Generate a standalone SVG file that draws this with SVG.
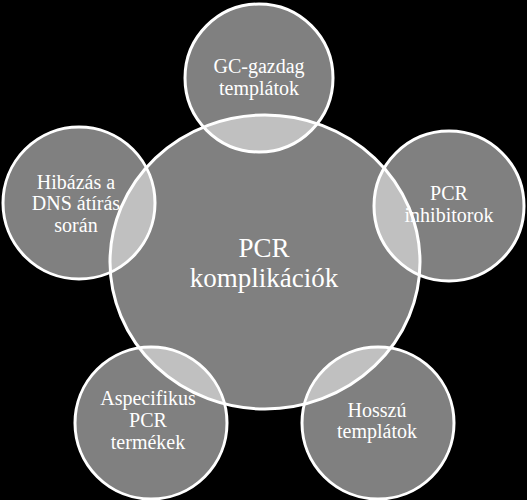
<svg xmlns="http://www.w3.org/2000/svg" width="527" height="500" viewBox="0 0 527 500">
<style>
.c{fill:#fff;fill-opacity:0.5;stroke:#fff;stroke-width:3}
.t{font-family:"Liberation Serif","Times New Roman",serif;fill:#fff;text-anchor:middle;font-size:20px}
.b{font-size:27px}
</style>
<rect width="527" height="500" fill="#000"/>
<g id="node-gc">
<circle class="c" cx="259" cy="78" r="74"/>
<text class="t" x="259" y="73">GC-gazdag</text>
<text class="t" x="259" y="95">templátok</text>
</g>
<g id="node-inhib">
<circle class="c" cx="449" cy="206" r="75"/>
<text class="t" x="449" y="200">PCR</text>
<text class="t" x="449" y="222">inhibitorok</text>
</g>
<g id="node-hosszu">
<circle class="c" cx="378" cy="423" r="76"/>
<text class="t" x="377" y="417">Hosszú</text>
<text class="t" x="377" y="438">templátok</text>
</g>
<g id="node-aspec">
<circle class="c" cx="151" cy="423" r="76"/>
<text class="t" x="148" y="405">Aspecifikus</text>
<text class="t" x="148" y="427">PCR</text>
<text class="t" x="148" y="449">termékek</text>
</g>
<g id="node-hiba">
<circle class="c" cx="79" cy="203" r="76"/>
<text class="t" x="76" y="189">Hibázás a</text>
<text class="t" x="76" y="210">DNS átírás</text>
<text class="t" x="76" y="232">során</text>
</g>
<g id="node-center">
<ellipse class="c" cx="265" cy="262" rx="155" ry="147"/>
<text class="t b" x="264" y="257">PCR</text>
<text class="t b" x="264" y="287">komplikációk</text>
</g>
<g id="connectors"/>
</svg>
